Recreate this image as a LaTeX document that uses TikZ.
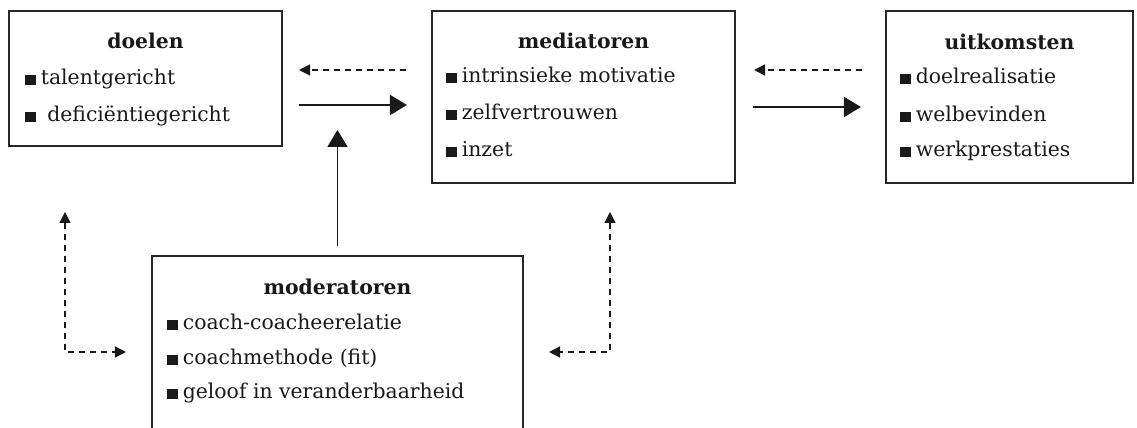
\documentclass[tikz,border=0pt]{standalone}
\usepackage{fontspec}
\setmainfont{DejaVu Serif}
\usetikzlibrary{arrows.meta}
\tikzset{
    blok/.style={draw=black!85, line width=1.2pt, inner sep=0pt},
    kop/.style={anchor=base, font=\bfseries\fontsize{11.6}{13}\selectfont, text=black!90},
    punt/.style={anchor=base west, font=\fontsize{11.6}{13}\selectfont, inner sep=0pt, text=black!90},
    pijl/.style={line width=1.1pt, black!90, >={Triangle[length=3.4mm,width=4mm]}, ->},
    stippel/.style={line width=0.7pt, black!90, dash pattern=on 1.2mm off 1mm, >={Triangle[length=2.2mm,width=2.2mm]}}
}
\newcommand{\blokje}{\rule{2.2mm}{2mm}\hspace{0.9mm}}
\begin{document}
\begin{tikzpicture}[x=0.02cm, y=-0.02cm]
    \useasboundingbox (0,0) rectangle (1137,428);
    \clip (0,0) rectangle (1137,428);
    % blokken
    \node[blok, minimum width=5.46cm, minimum height=2.7cm] (doelen) at (145.5,78.5) {};
    \node[blok, minimum width=6.06cm, minimum height=3.44cm] (mediatoren) at (583.5,97) {};
    \node[blok, minimum width=4.94cm, minimum height=3.44cm] (uitkomsten) at (1009.5,97) {};
    \node[blok, minimum width=7.42cm, minimum height=4.6cm] (moderatoren) at (337.5,371) {};
    % teksten
    \node[kop] (doelenkop) at (145.5,49) {doelen};
    \node[punt] (doel1) at (25,85) {\blokje talentgericht};
    \node[punt] (doel2) at (25,122) {\blokje\ deficiëntiegericht};
    \node[kop] (mediatorenkop) at (583.5,49) {mediatoren};
    \node[punt] (med1) at (446,83) {\blokje intrinsieke motivatie};
    \node[punt] (med2) at (446,120) {\blokje zelfvertrouwen};
    \node[punt] (med3) at (446,157) {\blokje inzet};
    \node[kop] (uitkomstenkop) at (1009.5,50) {uitkomsten};
    \node[punt] (uit1) at (900,84) {\blokje doelrealisatie};
    \node[punt] (uit2) at (900,122) {\blokje welbevinden};
    \node[punt] (uit3) at (900,157) {\blokje werkprestaties};
    \node[kop] (moderatorenkop) at (337.5,295) {moderatoren};
    \node[punt] (mod1) at (167,330) {\blokje coach-coacheerelatie};
    \node[punt] (mod2) at (167,365) {\blokje coachmethode (fit)};
    \node[punt] (mod3) at (167,399) {\blokje geloof in veranderbaarheid};
    % pijlen
    \draw[stippel, ->, shorten <=0.5cm, shorten >=0.32cm] (mediatoren.west |- 0,70) -- (doelen.east |- 0,70);
    \draw[pijl, shorten <=0.32cm, shorten >=0.48cm] (doelen.east |- 0,105) -- (mediatoren.west |- 0,105);
    \draw[stippel, ->, shorten <=0.46cm, shorten >=0.36cm] (uitkomsten.west |- 0,70) -- (mediatoren.east |- 0,70);
    \draw[pijl, shorten <=0.34cm, shorten >=0.48cm] (mediatoren.east |- 0,107) -- (uitkomsten.west |- 0,107);
    \coordinate (pijlpunt) at (337.5,130);
    \draw[pijl, shorten <=0.18cm] (moderatoren.north) -- (pijlpunt);
    \coordinate (links) at (65,212);
    \coordinate (rechts) at (610,212);
    \draw[stippel, <->, shorten >=0.5cm] (links) |- (moderatoren.west |- 0,352);
    \draw[stippel, <->, shorten >=0.5cm] (rechts) |- (moderatoren.east |- 0,352);
\end{tikzpicture}
\end{document}
